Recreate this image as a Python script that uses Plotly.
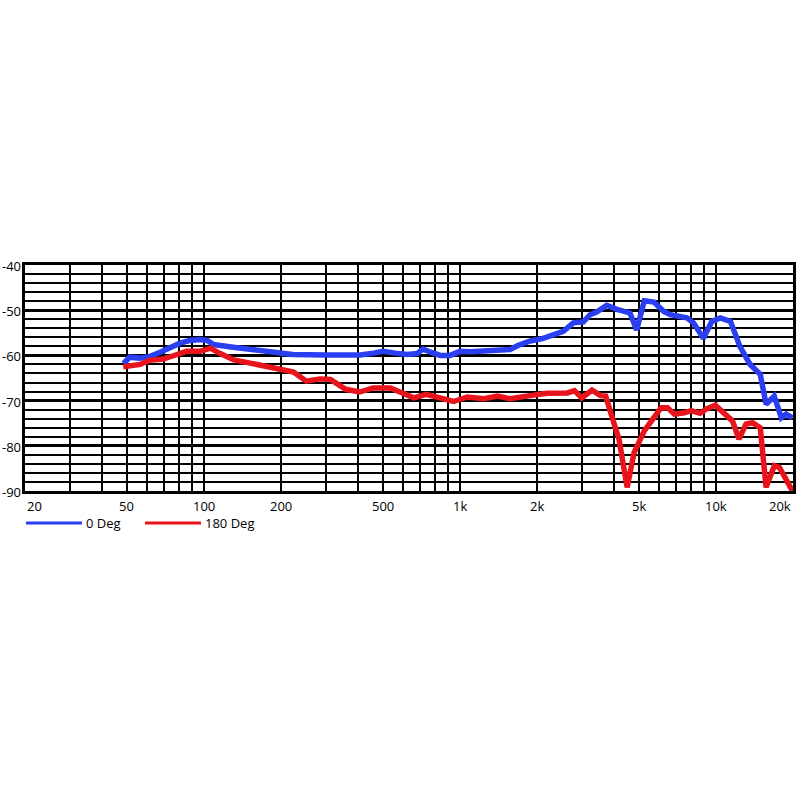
import math
import plotly.graph_objects as go

# 0 Deg response
freq_0 = [48.5, 51.3, 56, 61, 67.4, 74, 80.6, 88, 96.6, 103, 109, 130, 181, 222, 300, 408, 460, 500, 560,
          621, 680, 717, 780, 838, 915, 1002, 1100, 1272, 1570, 1684, 1882, 2100, 2300, 2534, 2772, 3035,
          3222, 3422, 3744, 4103, 4617, 4900, 5250, 5720, 6260, 6634, 7700, 8170, 8930, 9640, 10400,
          11400, 12400, 13600, 14900, 15700, 16900, 18000, 18800, 19900]
db_0 = [-61.8, -60.4, -60.6, -60.3, -59.3, -58.2, -57.3, -56.7, -56.5, -56.7, -57.6, -58.2, -59.3, -59.8,
        -59.9, -59.9, -59.5, -59.1, -59.5, -59.8, -59.6, -58.6, -59.4, -60.0, -60.0, -59.1, -59.2, -59.1,
        -58.7, -57.8, -56.8, -56.3, -55.6, -54.7, -52.8, -52.6, -51.0, -50.4, -48.9, -49.8, -50.6, -54.4,
        -47.9, -48.2, -50.3, -51.0, -51.7, -52.8, -56.2, -52.5, -51.7, -52.5, -58.0, -62.0, -64.2, -70.8,
        -69.0, -73.8, -73.0, -73.8]

# 180 Deg response
freq_180 = [48.4, 56.3, 61.2, 69.2, 78.6, 85.5, 96.6, 106, 115.8, 130.9, 151.5, 181, 198, 224, 251, 284,
            312, 358, 406, 458, 535, 605, 660, 738, 838, 944, 1068, 1240, 1400, 1570, 1880, 2190, 2630,
            2800, 2990, 3280, 3540, 3710, 3990, 4180, 4500, 4790, 5250, 6100, 6470, 6880, 7540, 8000,
            8670, 9220, 9940, 10700, 11600, 12300, 13100, 13900, 14900, 15700, 16900, 17700, 19900]
db_180 = [-62.5, -62.0, -61.1, -60.8, -59.8, -59.1, -59.1, -58.4, -59.6, -61.0, -61.7, -62.6, -63.3,
          -63.7, -65.7, -65.2, -65.3, -67.5, -68.1, -67.2, -67.2, -68.3, -69.4, -68.6, -69.4, -70.2,
          -69.2, -69.6, -69.0, -69.6, -68.9, -68.4, -68.3, -67.8, -69.4, -67.7, -68.9, -69.0, -74.9,
          -78.5, -89.2, -81.5, -76.7, -71.6, -71.6, -73.0, -72.7, -72.2, -72.8, -71.8, -71.0, -72.7,
          -74.5, -78.5, -75.2, -74.9, -76.0, -89.2, -84.4, -84.8, -90.0]

series_names = ["0 Deg", "180 Deg"]
series_colors = ["#2b3ff2", "#e8141c"]

x_grid = [20, 30, 40, 50, 60, 70, 80, 90, 100, 200, 300, 400, 500, 600, 700, 800, 900,
          1000, 2000, 3000, 4000, 5000, 6000, 7000, 8000, 9000, 10000, 20000]
x_label_vals = [20, 50, 100, 200, 500, 1000, 2000, 5000, 10000, 20000]
x_label_text = ["20", "50", "100", "200", "500", "1k", "2k", "5k", "10k", "20k"]
y_label_vals = [-40, -50, -60, -70, -80, -90]
y_label_text = ["-40", "-50", "-60", "-70", "-80", "-90"]

FONT = "Open Sans, Liberation Sans, Arial, sans-serif"
FS = 13

L, R, T, B = 25, 7, 265, 309
PW, PH = 800 - L - R, 800 - T - B

fig = go.Figure()
fig.add_trace(go.Scatter(x=freq_0, y=db_0, mode="lines", name=series_names[0],
                         line=dict(color=series_colors[0], width=5.5), showlegend=False))
fig.add_trace(go.Scatter(x=freq_180, y=db_180, mode="lines", name=series_names[1],
                         line=dict(color=series_colors[1], width=5.5), showlegend=False))

# x tick labels (edge labels kept inside the frame as in the original)
for v, t in zip(x_label_vals, x_label_text):
    anchor = "center"
    if v == x_label_vals[0]:
        anchor = "left"
    elif v == x_label_vals[-1]:
        anchor = "right"
    fig.add_annotation(x=math.log10(v), y=0, xref="x", yref="paper",
                       text=t, showarrow=False, xanchor=anchor, yanchor="top", yshift=-4,
                       font=dict(family=FONT, size=FS, color="black"))

# y tick labels
for v, t in zip(y_label_vals, y_label_text):
    fig.add_annotation(x=0, y=v, xref="paper", yref="y", text=t, showarrow=False,
                       xanchor="right", yanchor="middle", xshift=-2, yshift=-1,
                       font=dict(family=FONT, size=FS, color="black"))

# legend drawn below the chart
for i, (name, col) in enumerate(zip(series_names, series_colors)):
    px0 = 26 + i * 119
    ly = -(523 - (T + PH)) / PH
    fig.add_shape(type="line", xref="paper", yref="paper",
                  x0=(px0 - L) / PW, x1=(px0 + 56 - L) / PW,
                  y0=ly, y1=ly, line=dict(color=col, width=3))
    fig.add_annotation(xref="paper", yref="paper", x=(px0 + 58 - L) / PW, y=ly,
                       text=name, showarrow=False, xanchor="left", yanchor="middle",
                       font=dict(family=FONT, size=FS, color="black"))

fig.update_layout(
    width=800, height=800,
    margin=dict(l=L, r=R, t=T, b=B, autoexpand=False),
    paper_bgcolor="white", plot_bgcolor="white",
    font=dict(family=FONT, size=FS, color="black"),
    xaxis=dict(type="log", range=[math.log10(20), math.log10(20000)], automargin=False,
               tickvals=x_grid, showticklabels=False, ticks="",
               showgrid=True, gridcolor="black", gridwidth=2,
               showline=True, linecolor="black", linewidth=3, mirror=True, zeroline=False),
    yaxis=dict(range=[-90, -40], tickvals=y_label_vals, showticklabels=False, ticks="",
               automargin=False,
               showgrid=True, gridcolor="black", gridwidth=3,
               minor=dict(dtick=2, showgrid=True, gridcolor="black", gridwidth=2, tick0=-40),
               showline=True, linecolor="black", linewidth=3, mirror=True, zeroline=False),
)

fig.write_html("out.html", config={"displayModeBar": False},
               post_script="document.body.style.margin='0';")
